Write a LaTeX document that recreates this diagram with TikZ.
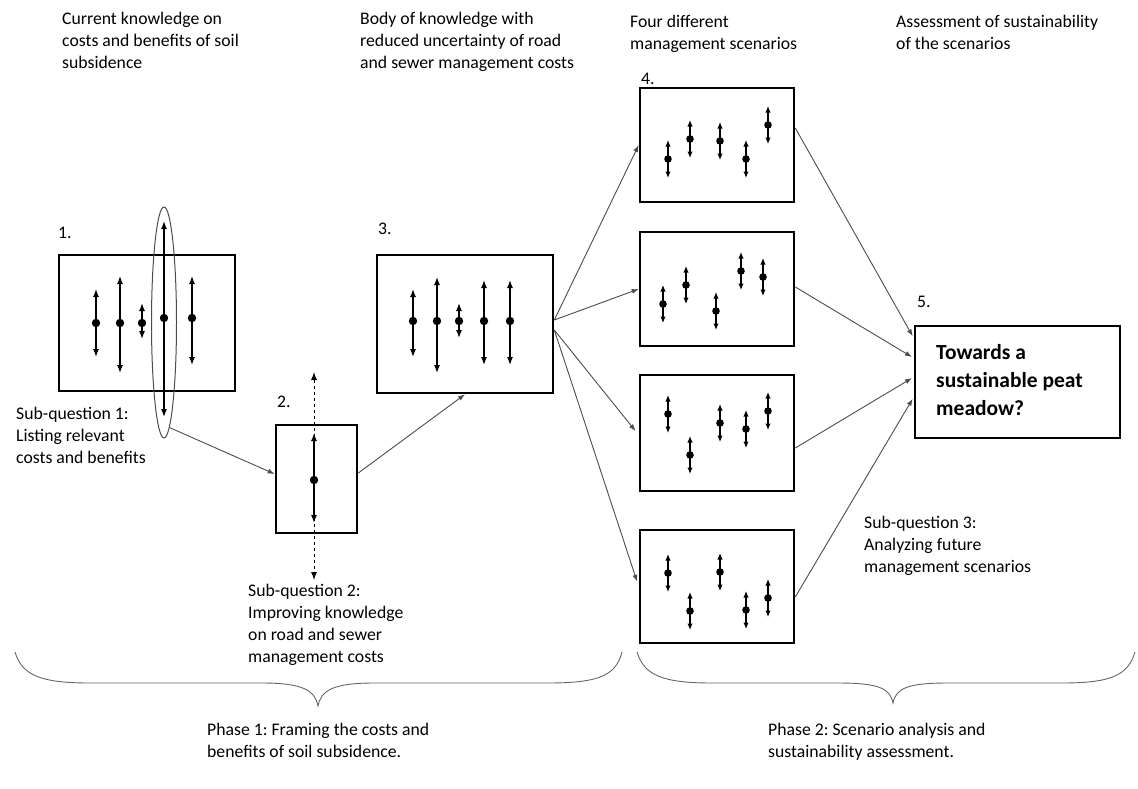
\documentclass[tikz,border=0pt]{standalone}
\usepackage{fontspec}
\setmainfont{Carlito}
\frenchspacing
\usetikzlibrary{positioning,arrows.meta,shapes.geometric}

\begin{document}
\begin{tikzpicture}[
  x=1pt, y=-1pt,
  font=\fontsize{17.7}{22}\selectfont,
  every node/.style={align=left},
  panel/.style={rectangle, draw=black, line width=2.6pt, inner sep=0pt},
  txt/.style  ={anchor=north west, inner sep=0pt},
  flow/.style ={-{Latex[length=7pt,width=5pt]}, draw=black!70, line width=0.9pt},
  rng/.style  ={{Latex[length=8pt,width=6pt]}-{Latex[length=8pt,width=6pt]}, line width=1.3pt},
  srng/.style ={{Latex[length=6.5pt,width=5.5pt]}-{Latex[length=6.5pt,width=5.5pt]}, line width=1.2pt},
  brace/.style={draw=black!60, line width=0.9pt},
]
\useasboundingbox (0,0) rectangle (1138,788);

% -------- boxes -------------------------------------------------------------
\node[panel, minimum width=176pt, minimum height=136pt] (b1) at (147,323)   {};
\node[panel, minimum width=81pt,  minimum height=108pt] (b2) at (316.5,479) {};
\node[panel, minimum width=176pt, minimum height=138pt] (b3) at (465,324)   {};
\node[panel, minimum width=154pt, minimum height=114pt] (s1) at (717,145)   {};
\node[panel, minimum width=154pt, minimum height=114pt] (s2) at (717,289)   {};
\node[panel, minimum width=154pt, minimum height=116pt] (s3) at (717,433)   {};
\node[panel, minimum width=154pt, minimum height=113pt] (s4) at (717,586.5) {};
\node[panel, minimum width=205pt, minimum height=112pt] (b5) at (1017.5,382) {};

\node[ellipse, draw=black!70, line width=1pt, inner sep=0pt,
      minimum width=25pt, minimum height=231pt] (ell) at (164,322.5) {};

% -------- ranges inside the boxes ------------------------------------------
\foreach \x/\d/\t/\b in {96/323/289/357, 120/323/276/373, 142/323/303/339,
                         164/318/221/417, 192/318/276/365}{
  \draw[rng] (\x,\t) -- (\x,\b);
  \fill (\x,\d) circle (4.2pt);
}
\draw[rng, dashed, line width=1pt] (314,372) -- (314,580);
\draw[rng] (314,433) -- (314,523);
\fill (314,480) circle (4.2pt);
\foreach \x/\d/\t/\b in {413/321/289/357, 437/321/277/373, 459/321/303/338,
                         484/321/280/365, 510/321/280/365}{
  \draw[rng] (\x,\t) -- (\x,\b);
  \fill (\x,\d) circle (4.2pt);
}

% four scenarios
\foreach \x/\d in {668/159, 690/139, 720/141, 746/159, 768/125,
                   663/304, 686/285, 716/311, 741/271, 763/277,
                   668/414, 690/455, 720/423, 746/429, 768/411,
                   668/573, 690/611, 720/572, 746/610, 768/598}{
  \draw[srng] (\x,\d-19) -- (\x,\d+19);
  \fill (\x,\d) circle (3.8pt);
}

% -------- connectors --------------------------------------------------------
\draw[flow] (ell.-87) -- ([yshift=5pt]b2.west);
\draw[flow] ([yshift=6pt]b2.east) -- (b3.south);
\draw[flow] ([yshift=4pt]b3.east) -- (s1.west);
\draw[flow] ([yshift=4pt]b3.east) -- (s2.west);
\draw[flow, shorten >=5pt] ([yshift=-6pt]b3.east) -- ([yshift=-2pt]s3.west);
\draw[flow, shorten >=5pt] ([yshift=-6pt]b3.east) -- (s4.west);
\draw[flow, shorten >=2pt] ([yshift=17pt]s1.east)   -- ([yshift=44pt]b5.west);
\draw[flow, shorten >=2pt] ([yshift=2pt]s2.east)    -- ([yshift=24pt]b5.west);
\draw[flow, shorten >=2pt] ([yshift=-15pt]s3.east)  -- ([yshift=5pt]b5.west);
\draw[flow, shorten >=2pt] ([yshift=-10.5pt]s4.east) -- ([yshift=-15pt]b5.west);

% -------- labels ------------------------------------------------------------
\node[txt] (top1) at (62,12)  {Current knowledge on\\costs and benefits of soil\\subsidence};
\node[txt] (top2) at (360,12) {Body of knowledge with\\reduced uncertainty of road\\and sewer management costs};
\node[txt] (top3) at (630,15) {Four different\\management scenarios};
\node[txt] (top4) at (896,15) {Assessment of sustainability\\of the scenarios};

\node[txt] (n1) at (58,227)  {1.};
\node[txt] (n2) at (277,396) {2.};
\node[txt] (n3) at (378,223) {3.};
\node[txt] (n4) at (641,73)  {4.};
\node[txt] (n5) at (917,296) {5.};

\node[txt, font=\fontsize{21.5}{28}\selectfont\bfseries] (goal) at (936,344)
     {Towards a\\sustainable peat\\meadow?};

\node[txt] (q1) at (16,407) {Sub-question 1:\\Listing relevant\\costs and benefits};
\node[txt] (q2) at (248,584) {Sub-question 2:\\Improving knowledge\\on road and sewer\\management costs};
\node[txt] (q3) at (864,516) {Sub-question 3:\\Analyzing future\\management scenarios};

% -------- phases ------------------------------------------------------------
\draw[brace] (15,652) .. controls (22,675) and (40,683) .. (90,683) -- (262,683)
  .. controls (302,683) and (315,690) .. (318,706)
  .. controls (321,690) and (334,683) .. (374,683) -- (548,683)
  .. controls (600,683) and (616,675) .. (622,652);
\draw[brace] (637,652) .. controls (644,675) and (662,683) .. (712,683) -- (838,683)
  .. controls (878,683) and (890,688) .. (893,703)
  .. controls (896,688) and (908,683) .. (948,683) -- (1062,683)
  .. controls (1112,683) and (1128,675) .. (1135,652);

\node[txt] (p1) at (207,723) {Phase 1: Framing the costs and\\benefits of soil subsidence.};
\node[txt] (p2) at (768,723) {Phase 2: Scenario analysis and\\sustainability assessment.};

\end{tikzpicture}
\end{document}
